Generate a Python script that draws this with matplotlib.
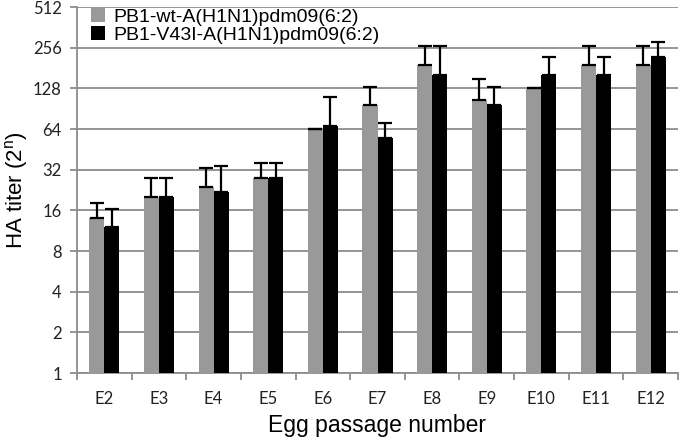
import numpy as np
import matplotlib
matplotlib.use("Agg")
from matplotlib import pyplot as plt

# data
passages = ["E2", "E3", "E4", "E5", "E6", "E7", "E8", "E9", "E10", "E11", "E12"]
wt_titer = [14, 20, 24, 28, 64, 96, 192, 105, 128, 192, 192]
wt_err_top = [18, 28, 33, 36, 64, 132, 265, 149, 128, 265, 265]
v43i_titer = [12, 20, 22, 28, 67, 55, 160, 96, 160, 160, 220]
v43i_err_top = [16.5, 28, 34, 36, 111, 71, 265, 132, 220, 220, 284]
series_names = ["PB1-wt-A(H1N1)pdm09(6:2)", "PB1-V43I-A(H1N1)pdm09(6:2)"]
y_ticks = [1, 2, 4, 8, 16, 32, 64, 128, 256, 512]

fig = plt.figure(figsize=(6.8, 4.41), dpi=100)
ax = fig.add_axes([77 / 680, 68 / 441, 601 / 680, 366 / 441])

x = np.arange(len(passages))
w = 0.275

wt = np.array(wt_titer)
v4 = np.array(v43i_titer)
wt_up = np.array(wt_err_top) - wt
v4_up = np.array(v43i_err_top) - v4

ax.bar(x - w / 2, wt, w, color="#999999", label=series_names[0], zorder=3)
ax.bar(x + w / 2, v4, w, color="black", label=series_names[1], zorder=3)
ax.errorbar(x - w / 2, wt, yerr=[np.zeros_like(wt_up), wt_up], fmt="none",
            ecolor="black", elinewidth=1.6, capsize=5, capthick=1.6, zorder=4)
ax.errorbar(x + w / 2, v4, yerr=[np.zeros_like(v4_up), v4_up], fmt="none",
            ecolor="black", elinewidth=1.6, capsize=5, capthick=1.6, zorder=4)

ax.set_yscale("log", base=2)
ax.set_ylim(1, 512)
ax.set_yticks(y_ticks)
ax.set_yticklabels([str(t) for t in y_ticks])
ax.yaxis.set_minor_locator(matplotlib.ticker.NullLocator())
ax.grid(axis="y", color="#8c8c8c", linewidth=1.3, zorder=0)

ax.set_xlim(-0.5, len(passages) - 0.5)
ax.set_xticks(x)
ax.set_xticklabels(passages)
ax.set_xticks(np.arange(len(passages) + 1) - 0.5, minor=True)
ax.tick_params(axis="x", which="major", length=0, pad=13)
ax.tick_params(axis="x", which="minor", length=5, color="#8c8c8c", width=1.3)
ax.tick_params(axis="y", length=5, color="#8c8c8c", width=1.3, pad=6)

for lab in ax.get_xticklabels() + ax.get_yticklabels():
    lab.set_family("Lato")
    lab.set_fontsize(12)
    lab.set_color("#222222")

for s in ["top", "right"]:
    ax.spines[s].set_visible(False)
for s in ["left", "bottom"]:
    ax.spines[s].set_color("#8c8c8c")
    ax.spines[s].set_linewidth(1.3)

ax.set_ylabel("HA titer (2$^{\\mathregular{n}}$)", family="Liberation Sans", fontsize=16, labelpad=2)
ax.set_xlabel("Egg passage number", family="Liberation Sans", fontsize=16.5, labelpad=5)

leg = ax.legend(loc="upper left", bbox_to_anchor=(0.0, 1.035), frameon=False,
                prop={"family": "Liberation Sans", "size": 14},
                handlelength=0.75, handleheight=0.75, handletextpad=0.4,
                labelspacing=0.0, borderaxespad=0.3)

fig.savefig("out.png", dpi=100)
